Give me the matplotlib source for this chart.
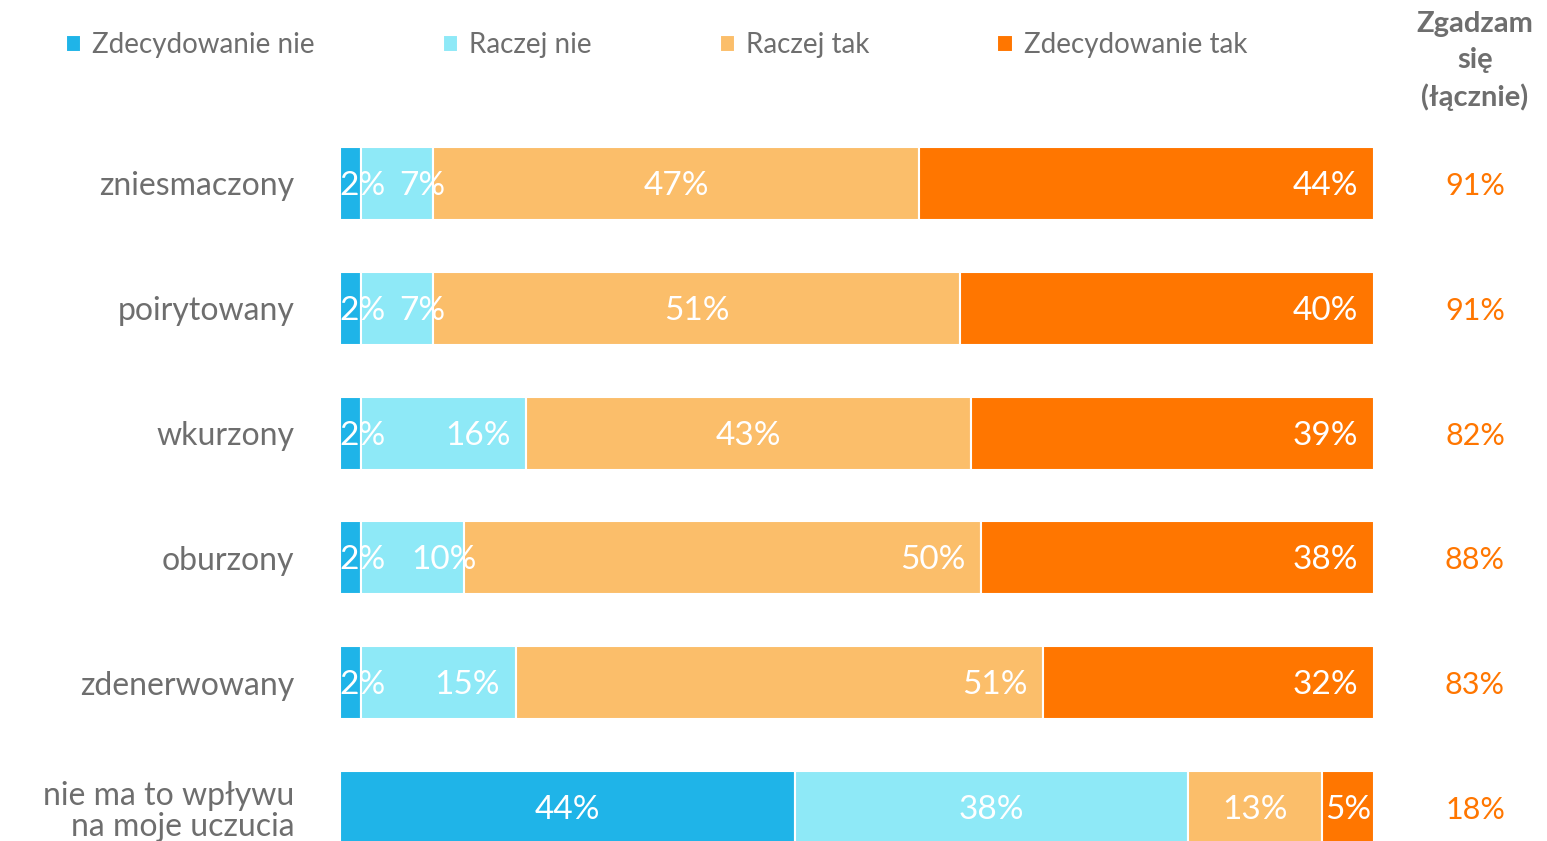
import matplotlib
matplotlib.use("Agg")
import matplotlib.pyplot as plt
import numpy as np

# Survey answers per emotion, in percent
categories = ["zniesmaczony", "poirytowany", "wkurzony", "oburzony",
              "zdenerwowany", "nie ma to wpływu\nna moje uczucia"]
series_names = ["Zdecydowanie nie", "Raczej nie", "Raczej tak", "Zdecydowanie tak"]
zdecydowanie_nie = [2, 2, 2, 2, 2, 44]
raczej_nie = [7, 7, 16, 10, 15, 38]
raczej_tak = [47, 51, 43, 50, 51, 13]
zdecydowanie_tak = [44, 40, 39, 38, 32, 5]

# label placement per segment:
# l = inside base, c = centre, e = inside end, r = just past the end
label_modes = [
    ["l", "r", "c", "e"],
    ["l", "r", "c", "e"],
    ["l", "e", "c", "e"],
    ["l", "r", "e", "e"],
    ["l", "e", "e", "e"],
    ["c", "c", "c", "c"],
]

colors = ["#1FB4E8", "#8EE9F7", "#FBBE6A", "#FF7600"]
grey = "#6E6E6E"
plt.rcParams["font.family"] = ["Lato", "DejaVu Sans"]

series = [zdecydowanie_nie, raczej_nie, raczej_tak, zdecydowanie_tak]
totals = np.array(raczej_tak) + np.array(zdecydowanie_tak)

W, H = 1547, 841
fig = plt.figure(figsize=(W / 100, H / 100), dpi=100)
ax = fig.add_axes([340 / W, 0, 1034 / W, 1])

y = np.arange(len(categories))
left = np.zeros(len(categories))
bars = []
for vals, name, col in zip(series, series_names, colors):
    b = ax.barh(y, vals, left=left, height=0.585, color=col,
                edgecolor="white", linewidth=1.5, label=name)
    bars.append(b)
    left += np.array(vals)

ax.set_xlim(0, 100)
ax.set_ylim(5.268, -1.470)

# value labels inside the segments
starts = np.cumsum([np.zeros(len(categories))] + series[:-1], axis=0)
for si, vals in enumerate(series):
    for ri, v in enumerate(vals):
        s0 = starts[si][ri]
        mode = label_modes[ri][si]
        if mode == "c":
            x, ha = s0 + v / 2, "center"
        elif mode == "e":
            x, ha = s0 + v - 1.5, "right"
        elif mode == "r":
            x, ha = s0 + v + 1.2, "right"
        else:
            x, ha = s0 - 0.1, "left"
        ax.text(x, ri + 0.02, f"{v}%", ha=ha, va="center", color="white",
                fontsize=24, clip_on=True)

ax.set_yticks(y)
ax.set_yticklabels(categories, fontsize=23, color=grey,
                   multialignment="right", linespacing=1.05)
ax.tick_params(axis="y", length=0, pad=33)
ax.set_xticks([])
for sp in ax.spines.values():
    sp.set_visible(False)

# combined agreement column
for ri, t in enumerate(totals):
    ax.annotate(f"{t}%", xy=(1475 / W, ri + 0.02), xycoords=("figure fraction", "data"),
                ha="center", va="center", color="#FF7600", fontsize=22,
                annotation_clip=False)

fig.text(1475 / W, 1 - 61 / H, "Zgadzam\nsię\n(łącznie)", ha="center",
         va="center", color=grey, fontsize=21, fontweight="bold",
         linespacing=1.45)

fig.legend(handles=bars, loc="center left", bbox_to_anchor=(41 / W, 1 - 45 / H),
           ncol=4, frameon=False, handlelength=0.55,
           handleheight=0.55, handletextpad=0.4, columnspacing=4.6,
           labelcolor=grey, prop={"size": 20})

fig.savefig("out.png", dpi=100)
